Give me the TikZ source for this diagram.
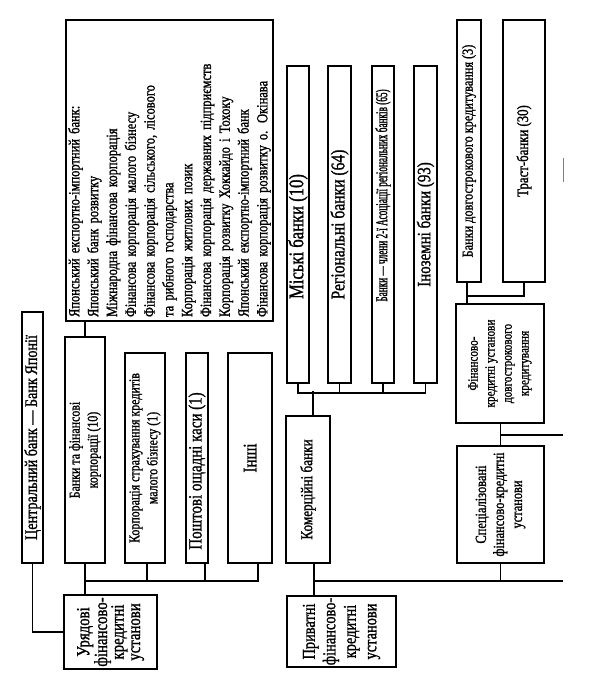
\documentclass[tikz,border=0pt]{standalone}
\usepackage{fontspec}
\setmainfont[FakeStretch=0.8, FakeBold=1.2]{Liberation Serif}
\newfontfamily\narrowfont[FakeStretch=0.56, FakeBold=1.2]{Liberation Serif}
\usetikzlibrary{calc}
\usetikzlibrary{positioning}

\begin{document}
\begin{tikzpicture}[x=1pt, y=-1pt]
  % Define the styles for the boxes and the lines
  \tikzstyle{vbox}=[draw, line width=2pt, rotate=90, inner xsep=2pt, inner ysep=0pt, align=center, font=\fontsize{16.5}{18}\selectfont];
  \tikzstyle{link}=[line width=1.3pt];

  % Fix the size of the page
  \useasboundingbox (0,0) rectangle (590,673);

  % Central bank and the government institutions
  \node[vbox, minimum width=251pt, minimum height=21pt, font=\fontsize{17.7}{20}\selectfont] (cb) at (32.5,437.5) {Центральний банк — Банк Японії};
  \node[vbox, minimum width=68pt, minimum height=93pt, font=\fontsize{18.5}{16.5}\selectfont] (urfk) at (110.5,632) {Урядові\\фінансово-\\кредитні\\установи};

  % List of the banks and corporations
  \node[vbox, minimum width=301pt, minimum height=207pt, align=left, text width=293pt, inner xsep=4pt, font=\fontsize{15.6}{18.8}\selectfont] (list) at (169.5,170.5) {Японський експортно-імпортний банк:\\
    Японський банк розвитку\\
    Міжнародна фінансова корпорація\\
    Фінансова корпорація малого бізнесу\\
    Фінансова корпорація сільського, лісового\\
    та рибного господарства\\
    Корпорація житлових позик\\
    Фінансова корпорація державних підприємств\\
    Корпорація розвитку Хоккайдо і Тохоку\\
    Японський експортно-імпортний банк\\
    Фінансова корпорація розвитку о. Окінава};

  % Government boxes
  \node[vbox, minimum width=226pt, minimum height=40pt, font=\fontsize{14.9}{18}\selectfont] (bfk) at (85,450) {Банки та фінансові\\корпорації (10)};
  \node[vbox, minimum width=210pt, minimum height=40pt, font=\fontsize{14.9}{18}\selectfont] (kskm) at (145,458) {Корпорація страхування кредитів\\малого бізнесу (1)};
  \node[vbox, minimum width=210pt, minimum height=22pt, font=\fontsize{18.7}{20}\selectfont] (pok) at (197,458) {Поштові ощадні каси (1)\hspace*{26pt}};
  \node[vbox, minimum width=210pt, minimum height=44pt, font=\fontsize{19}{20}\selectfont] (inshi) at (250,458) {Інші};

  % Private institutions
  \node[vbox, minimum width=147pt, minimum height=44pt] (komb) at (308,489.5) {Комерційні банки};
  \node[vbox, minimum width=69pt, minimum height=109pt, font=\fontsize{18}{20.5}\selectfont] (prfk) at (341.5,631.5) {Приватні\\фінансово-\\кредитні\\установи};

  % Commercial banks
  \node[vbox, minimum width=317pt, minimum height=22pt, font=\fontsize{20.8}{22}\selectfont] (misk) at (298,224.5) {Міські банки (10)\hspace*{24pt}};
  \node[vbox, minimum width=317pt, minimum height=23pt, font=\fontsize{19.5}{21}\selectfont] (reg) at (339.5,224.5) {Регіональні банки (64)};
  \node[vbox, minimum width=317pt, minimum height=22pt, font=\narrowfont\fontsize{16.5}{18}\selectfont] (chl) at (383,224.5) {\hspace*{58pt}Банки — члени 2-ї Асоціації регіональних банків (65)};
  \node[vbox, minimum width=317pt, minimum height=23pt, font=\fontsize{18.7}{20}\selectfont] (inoz) at (425.5,224.5) {Іноземні банки (93)};

  % Long-term credit and special institutions
  \node[vbox, minimum width=262pt, minimum height=24pt, font=\fontsize{15.3}{17}\selectfont] (bdk) at (469,151) {Банки довгострокового кредитування (3)};
  \node[vbox, minimum width=262pt, minimum height=42pt, font=\fontsize{16}{17}\selectfont] (trast) at (524,151) {Траст-банки (30)};
  \node[vbox, minimum width=119pt, minimum height=88pt, font=\fontsize{14}{17}\selectfont] (fkdk) at (500,363.5) {Фінансово-\\кредитні установи\\довгострокового\\кредитування};
  \node[vbox, minimum width=117pt, minimum height=87pt, font=\fontsize{15.5}{18}\selectfont] (sfk) at (500.5,504.5) {Спеціалізовані\\фінансово-кредитні\\установи};

  % Free ends of the lines
  \coordinate (ubus) at (85,581);
  \coordinate (rbus) at (563,581);
  \coordinate (fbr) at (563,435);

  % Lines of the government part
  \draw[link] (cb.west) |- (urfk.north);
  \draw[link] (bfk.east) -- (bfk.east |- list.west);
  \draw[link] (bfk.west) -- (bfk.west |- urfk.east);
  \draw[link] (ubus) -| ([xshift=8pt]inshi.west);
  \draw[link] ([xshift=2pt]kskm.west) -- ([xshift=2pt]kskm.west |- ubus);
  \draw[link] ([xshift=8pt]pok.west) -- ([xshift=8pt]pok.west |- ubus);

  % Lines of the private part
  \draw[link] ([xshift=6pt]komb.west) -- ([xshift=6pt]komb.west |- prfk.east);
  \draw[link] ([xshift=6pt]komb.west |- rbus) -- (rbus);
  \draw[link] (sfk.west |- rbus) -- (sfk.west);
  \draw[link] (sfk.east) -- (sfk.east |- fkdk.west);
  \draw[link] (sfk.east |- fbr) -- (fbr);
  \draw[link] ([xshift=5pt]komb.east) -- ++(0,-24);
  \draw[link] (misk.west) -- ++(0,9) -| (inoz.west);
  \draw[link] (reg.west) -- ++(0,9);
  \draw[link] (chl.west) -- ++(0,9);
  \draw[link] ([xshift=-2pt]bdk.west) -- ([xshift=-2pt]bdk.west |- fkdk.east);
  \draw[link] ([xshift=-2pt]bdk.west) ++(0,13) -| (trast.west);

  % Small mark on the right
  \draw[gray, line width=0.7pt] (563,158) -- (563,182);
\end{tikzpicture}
\end{document}
